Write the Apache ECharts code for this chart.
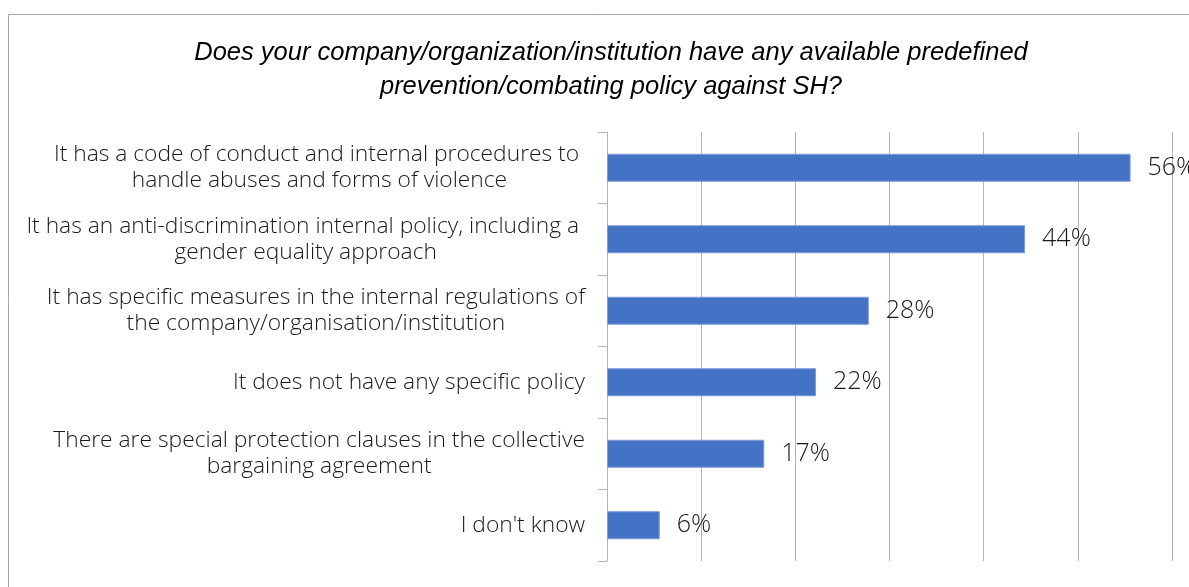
<!DOCTYPE html>
<html>
<head>
<meta charset="utf-8">
<script src="https://cdn.jsdelivr.net/npm/echarts@6/dist/echarts.min.js"></script>
<style>
  html, body { margin: 0; padding: 0; background: #fff; }
  #chart { width: 1189px; height: 587px; }
</style>
</head>
<body>
<div id="chart"></div>
<script>
// 数据
const titleText = 'Does your company/organization/institution have any available predefined\nprevention/combating policy against SH?'
const categories = [
  'It has a code of conduct and internal procedures to \nhandle abuses and forms of violence',
  'It has an anti-discrimination internal policy, including a \ngender equality approach',
  'It has specific measures in the internal regulations of\nthe company/organisation/institution',
  'It does not have any specific policy',
  'There are special protection clauses in the collective\nbargaining agreement',
  "I don't know",
]
const shares = [55.6, 44.4, 27.8, 22.2, 16.7, 5.6]
const axisMax = 60
const axisStep = 10

const chart = echarts.init(document.getElementById('chart'))

const option = {
  backgroundColor: '#fff',
  animation: false,
  title: {
    text: titleText,
    left: 606,
    top: 31,
    textAlign: 'center',
    textStyle: {
      fontFamily: 'Liberation Sans, Arial, sans-serif',
      fontStyle: 'italic',
      fontWeight: 'normal',
      fontSize: 25.5,
      lineHeight: 34,
      color: '#000',
    },
  },
  graphic: [
    {
      type: 'rect',
      shape: { x: 8.5, y: 14.5, width: 1300, height: 700 },
      style: { fill: 'none', stroke: '#a6a6a6', lineWidth: 1 },
      silent: true,
    },
  ],
  grid: {
    left: 607,
    right: 17,
    top: 132,
    bottom: 26,
  },
  xAxis: {
    type: 'value',
    min: 0,
    max: axisMax,
    interval: axisStep,
    axisLabel: { show: false },
    axisLine: { show: false },
    axisTick: { show: false },
    splitLine: { show: true, lineStyle: { color: '#b5b5b5', width: 1 } },
  },
  yAxis: {
    type: 'category',
    inverse: true,
    data: categories,
    axisLine: { show: true, lineStyle: { color: '#b5b5b5', width: 1 } },
    axisTick: { show: true, length: 9, lineStyle: { color: '#b5b5b5' } },
    axisLabel: {
      margin: 22,
      formatter: (v) => '{a|' + v + '}',
      rich: {
        a: {
          align: 'center',
          fontFamily: 'Open Sans, Roboto, sans-serif',
          fontWeight: 300,
          fontSize: 22.8,
          lineHeight: 26,
          color: '#1a1a1a',
        },
      },
    },
  },
  series: [
    {
      type: 'bar',
      data: shares,
      barWidth: 28,
      itemStyle: { color: '#4472C4', borderColor: '#7d9ad6', borderWidth: 1 },
      label: {
        show: true,
        position: 'right',
        distance: 17,
        formatter: (p) => Math.round(p.value) + '%',
        fontFamily: 'Open Sans, Roboto, sans-serif',
        fontWeight: 300,
        fontSize: 25,
        color: '#1a1a1a',
      },
    },
  ],
}

chart.setOption(option)
</script>
</body>
</html>
